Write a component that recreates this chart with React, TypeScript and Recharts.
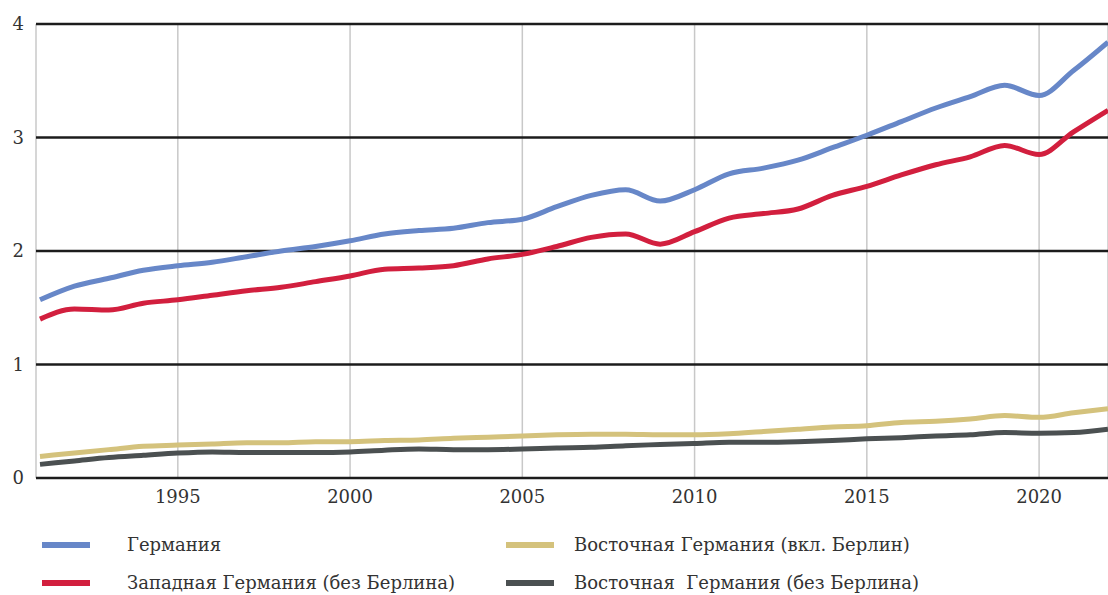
import { LineChart, Line, XAxis, YAxis, CartesianGrid, Legend } from 'recharts';

const years = [
	1991, 1992, 1993, 1994, 1995, 1996, 1997, 1998, 1999, 2000, 2001, 2002, 2003, 2004, 2005, 2006,
	2007, 2008, 2009, 2010, 2011, 2012, 2013, 2014, 2015, 2016, 2017, 2018, 2019, 2020, 2021, 2022
];

const germany = [
	1.57, 1.69, 1.76, 1.83, 1.87, 1.9, 1.95, 2.0, 2.04, 2.09, 2.15, 2.18, 2.2, 2.25, 2.28, 2.39,
	2.49, 2.54, 2.44, 2.54, 2.68, 2.73, 2.8, 2.91, 3.02, 3.14, 3.26, 3.36, 3.46, 3.37, 3.59, 3.84
];

const west = [
	1.4, 1.49, 1.48, 1.54, 1.57, 1.61, 1.65, 1.68, 1.73, 1.78, 1.84, 1.85, 1.87, 1.93, 1.97, 2.04,
	2.12, 2.15, 2.06, 2.17, 2.29, 2.33, 2.37, 2.49, 2.57, 2.67, 2.76, 2.83, 2.93, 2.85, 3.05, 3.24
];

const eastWithBerlin = [
	0.19, 0.22, 0.25, 0.28, 0.29, 0.3, 0.31, 0.31, 0.32, 0.32, 0.33, 0.335, 0.35, 0.36, 0.37, 0.38,
	0.385, 0.385, 0.38, 0.38, 0.39, 0.41, 0.43, 0.45, 0.46, 0.49, 0.5, 0.52, 0.55, 0.535, 0.575, 0.61
];

const eastNoBerlin = [
	0.12, 0.15, 0.18, 0.2, 0.22, 0.23, 0.225, 0.225, 0.225, 0.23, 0.245, 0.255, 0.25, 0.25, 0.255, 0.265,
	0.27, 0.285, 0.295, 0.305, 0.315, 0.315, 0.32, 0.33, 0.345, 0.355, 0.37, 0.38, 0.4, 0.395, 0.4, 0.43
];

const xTicks = [1995, 2000, 2005, 2010, 2015, 2020];
const yTicks = [0, 1, 2, 3, 4];

// legend order: left column top/bottom, then right column top/bottom
const SERIES = [
	{ key: 'germany', name: 'Германия', color: '#6787c8' },
	{ key: 'west', name: 'Западная Германия (без Берлина)', color: '#d21f3e' },
	{ key: 'eastWithBerlin', name: 'Восточная Германия (вкл. Берлин)', color: '#d4c27c' },
	{ key: 'eastNoBerlin', name: 'Восточная  Германия (без Берлина)', color: '#4b5051' }
];

const FONT = '"DejaVu Serif", serif';

const data = years.map((year, i) => ({
	year,
	germany: germany[i],
	west: west[i],
	eastWithBerlin: eastWithBerlin[i],
	eastNoBerlin: eastNoBerlin[i]
}));

function renderLegend(props: any) {
	const payload = props.payload || [];
	return (
		<div style={{ position: 'relative', width: 1108, height: 77, fontFamily: FONT }}>
			{payload.map((entry: any) => {
				const i = SERIES.findIndex((s) => s.name === entry.value);
				const col = i < 2 ? 0 : 1;
				const row = i % 2;
				const top = row ? 65 : 27;
				return (
					<div key={`legend-${i}`}>
						<div
							style={{
								position: 'absolute',
								left: col ? 506 : 42,
								top: top - 3,
								width: 48,
								height: 6,
								background: entry.color
							}}
						/>
						<div
							style={{
								position: 'absolute',
								left: col ? 574 : 127,
								top: top - 12,
								fontSize: 18,
								lineHeight: '24px',
								color: '#333',
								whiteSpace: 'pre'
							}}
						>
							{entry.value}
						</div>
					</div>
				);
			})}
		</div>
	);
}

export default function App() {
	return (
		<div style={{ position: 'absolute', left: 0, top: 0 }}>
			<LineChart width={1108} height={595} data={data} margin={{ top: 24, right: 0, bottom: 0, left: 0 }}>
				<CartesianGrid horizontal={false} stroke="#c8c8c8" strokeWidth={1.5} />
				<CartesianGrid vertical={false} stroke="#1c1c1c" strokeWidth={2.5} />
				<XAxis
					dataKey="year"
					type="number"
					domain={[1991, 2022]}
					ticks={xTicks}
					padding={{ left: 4, right: 0 }}
					axisLine={false}
					tickLine={false}
					tickMargin={6}
					height={40}
					tick={{ fill: '#333', fontSize: 18, fontFamily: FONT }}
				/>
				<YAxis
					domain={[0, 4]}
					ticks={yTicks}
					width={36}
					axisLine={false}
					tickLine={false}
					tickMargin={6}
					tick={{ fill: '#333', fontSize: 18, fontFamily: FONT }}
				/>
				<Legend
					verticalAlign="bottom"
					height={77}
					wrapperStyle={{ left: 0, bottom: 0, width: 1108 }}
					content={renderLegend}
				/>
				{SERIES.map((s) => (
					<Line
						key={s.key}
						dataKey={s.key}
						name={s.name}
						stroke={s.color}
						strokeWidth={5}
						type="monotone"
						dot={false}
						isAnimationActive={false}
					/>
				))}
			</LineChart>
		</div>
	);
}
